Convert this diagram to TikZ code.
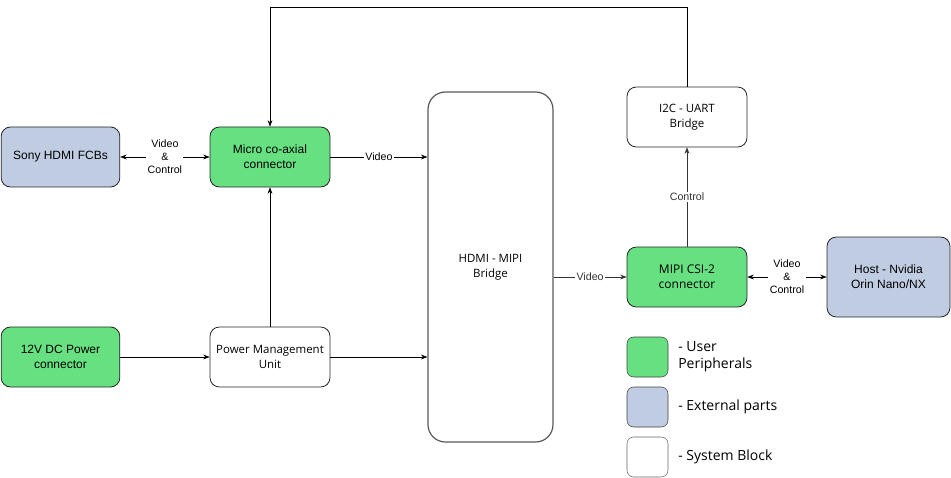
\documentclass[tikz,border=0pt]{standalone}
\usepackage{fontspec}
\setmainfont{Liberation Sans}
\newfontfamily\legendfont{Open Sans}
\usetikzlibrary{arrows.meta, positioning}
\definecolor{periph}{HTML}{67E081}
\definecolor{extpart}{HTML}{BFCCE2}

\begin{document}
\begin{tikzpicture}[x=0.75pt, y=-0.75pt, >=Stealth,
  blk/.style={rectangle, rounded corners=7pt, draw=black!85, fill=#1, line width=0.6pt, inner sep=1pt,
    minimum width=90pt, minimum height=45pt, align=center, font=\fontsize{9}{11}\selectfont},
  blk/.default=white,
  lbl/.style={fill=white, inner sep=1pt, align=center, font=\fontsize{8}{9.75}\selectfont},
  legbox/.style={rectangle, rounded corners=5pt, draw=black!75, fill=#1, minimum width=30.75pt, minimum height=30pt, inner sep=0pt},
  legtext/.style={anchor=west, align=left, inner sep=0pt, font=\legendfont\fontsize{10.5}{12.75}\selectfont}]
  \useasboundingbox (0,0) rectangle (951,478);
  \node[blk=extpart, minimum width=89pt] (sony) at (60.5,157) {Sony HDMI FCBs};
  \node[blk=periph] (micro) at (270,157) {Micro co-axial\\connector};
  \node[blk=periph, minimum width=89pt] (dcin) at (60.5,357) {12V DC Power\\connector};
  \node[blk, font=\legendfont\fontsize{8.6}{11}\selectfont] (pmu) at (270,357) {Power Management\\Unit};
  \node[blk, rounded corners=13pt, draw=black!65, line width=0.9pt, minimum width=93.75pt, minimum height=262.5pt,
    font=\legendfont\fontsize{8.6}{11}\selectfont] (bridge) at (490.5,267) {HDMI - MIPI\\Bridge};
  \node[blk, font=\legendfont\fontsize{8.6}{11}\selectfont] (i2c) at (687,117) {I2C - UART\\Bridge};
  \node[blk=periph, font=\legendfont\fontsize{9}{11}\selectfont] (mipi) at (687,277) {MIPI CSI-2\\connector};
  \node[blk=extpart, minimum width=92.25pt, minimum height=60pt] (host) at (888.5,277) {Host - Nvidia\\Orin Nano/NX};
  % legend
  \node[legbox=periph] (legA) at (647.5,357) {};
  \node[legbox=extpart] (legB) at (647.5,407) {};
  \node[legbox=white, draw=black!60] (legC) at (647.5,457) {};
  \node[legtext] (legAt) at (678,357) {- User\\Peripherals};
  \node[legtext] (legBt) at (678,407) {- External parts};
  \node[legtext] (legCt) at (678,457) {- System Block};
  % connections
  \draw[<->] (sony) -- node[lbl]{Video\\\&\\Control} (micro);
  \draw[->] (micro) -- node[lbl]{Video} (micro -| bridge.west);
  \draw[->] (dcin) -- (pmu);
  \draw[->] (pmu) -- (micro);
  \draw[->] (pmu) -- (pmu -| bridge.west);
  \draw[->, black!80] (mipi -| bridge.east) -- node[lbl]{Video} (mipi);
  \draw[<->] (mipi) -- node[lbl]{Video\\\&\\Control} (host);
  \draw[->, black!80] (mipi) -- node[lbl]{Control} (i2c);
  \draw[->] (i2c.north) -- ++(0,-79) -| (micro.north);
\end{tikzpicture}
\end{document}
